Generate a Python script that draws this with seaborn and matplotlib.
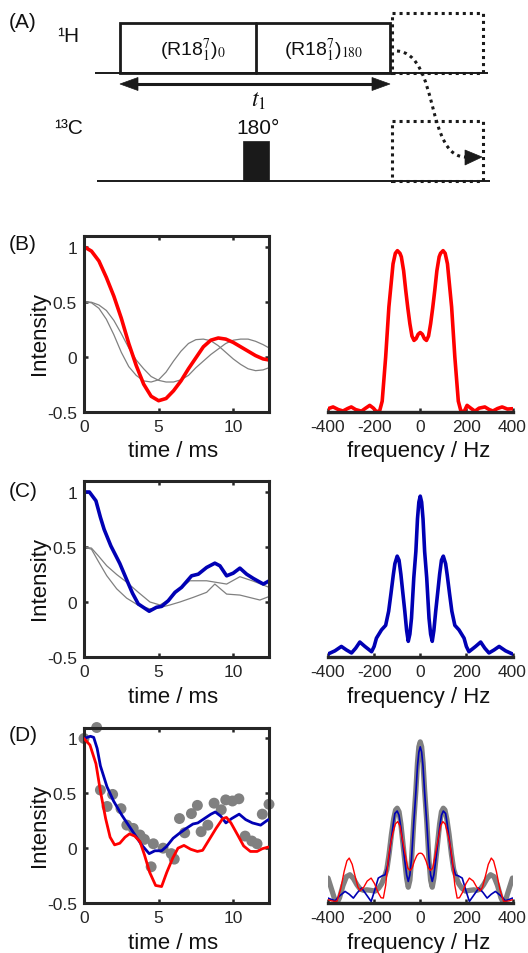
import numpy as np
import pandas as pd
import matplotlib
matplotlib.use("Agg")
import matplotlib.pyplot as plt
import seaborn as sns
from matplotlib.patches import Rectangle, Polygon, PathPatch
from matplotlib.path import Path

# ---------------- data ----------------
# (B) simulated time-domain signals
b_time = [0, 0.5, 1.0, 1.5, 2.0, 2.5, 3.0, 3.5, 4.0, 4.5, 5.0, 5.5, 6.0, 6.5,
          7.0, 7.5, 8.0, 8.5, 9.0, 9.5, 10.0, 10.5, 11.0, 11.5, 12.0, 12.4]
b_red = [1.0, 0.96, 0.87, 0.72, 0.55, 0.35, 0.12, -0.08, -0.25, -0.36, -0.40, -0.38, -0.31,
         -0.22, -0.11, -0.01, 0.09, 0.15, 0.17, 0.16, 0.13, 0.09, 0.05, 0.01, -0.02, -0.03]
b_gray_fast = [0.50, 0.49, 0.44, 0.34, 0.20, 0.04, -0.09, -0.17, -0.22, -0.23, -0.21, -0.14, -0.04,
               0.05, 0.12, 0.155, 0.16, 0.145, 0.10, 0.04, -0.02, -0.07, -0.11, -0.127, -0.12, -0.10]
b_gray_slow = [0.50, 0.495, 0.47, 0.42, 0.33, 0.21, 0.08, -0.03, -0.11, -0.18, -0.215, -0.23, -0.23,
               -0.21, -0.17, -0.10, -0.04, 0.02, 0.07, 0.12, 0.15, 0.16, 0.16, 0.14, 0.11, 0.08]

# (B) spectrum
b_freq = [-400, -378, -355, -335, -315, -299, -280, -255, -237, -219, -203, -190, -176, -165,
          -150, -136, -118, -108, -99, -88, -82, -72, -63, -54, -45, -36, -27, -18, -9, 0,
          9, 18, 27, 36, 45, 54, 63, 72, 82, 88, 99, 108, 118, 136, 150, 165, 176, 190, 203,
          219, 237, 255, 280, 299, 315, 335, 355, 378, 400]
b_spec = [0.017, 0.027, 0.012, 0.004, 0.018, 0.027, 0.012, 0.003, 0.02, 0.036, 0.02, 0.0, 0.005, 0.06,
          0.31, 0.595, 0.84, 0.90, 0.915, 0.90, 0.88, 0.80, 0.69, 0.59, 0.50, 0.43, 0.405, 0.415, 0.44, 0.45,
          0.44, 0.415, 0.405, 0.43, 0.50, 0.59, 0.69, 0.80, 0.88, 0.90, 0.915, 0.90, 0.84, 0.595, 0.31,
          0.06, 0.005, 0.0, 0.036, 0.02, 0.003, 0.02, 0.027, 0.012, 0.004, 0.018, 0.027, 0.015, 0.017]

# (C) experimental-like time-domain signals
c_time_blue = [0, 0.36, 0.8, 1.1, 1.35, 1.8, 2.4, 2.9, 3.25, 3.64, 4.37, 4.86, 5.2, 5.65, 6.1,
               6.54, 7.21, 7.66, 8.22, 8.77, 9.11, 9.56, 10.0, 10.45, 10.9, 11.35, 12.02, 12.42]
c_blue = [1.0, 1.0, 0.92, 0.77, 0.66, 0.51, 0.35, 0.19, 0.08, -0.018, -0.084, -0.048, -0.04, 0.012,
          0.088, 0.133, 0.238, 0.253, 0.314, 0.353, 0.329, 0.238, 0.262, 0.308, 0.253, 0.214, 0.163, 0.193]
c_time_gray1 = [0, 0.5, 0.96, 1.52, 2.19, 2.86, 3.64, 4.42, 5.09, 5.76, 6.43, 7.1, 8.22, 8.89,
                9.56, 10.45, 11.34, 12.41]
c_gray1 = [0.5, 0.49, 0.42, 0.33, 0.25, 0.18, 0.088, 0.0, -0.027, 0.027, 0.12, 0.193, 0.193, 0.178,
           0.163, 0.23, 0.19, 0.133]
c_time_gray2 = [0, 0.5, 0.96, 1.52, 2.19, 2.86, 3.64, 4.42, 5.09, 5.76, 6.43, 7.32, 8.22, 8.77,
                9.56, 10.45, 11.79, 12.41]
c_gray2 = [0.5, 0.48, 0.37, 0.24, 0.12, 0.035, -0.03, -0.063, -0.05, -0.027, 0.0, 0.042, 0.088, 0.163,
           0.072, 0.063, 0.018, 0.05]

# (C) spectrum
c_freq = [-400, -370, -342, -320, -298, -280, -262, -240, -211, -200, -190, -168, -150, -137, -127,
          -117, -110, -100, -92, -84, -76, -67, -59, -52, -45, -38, -28, -19, -12, -6, 0,
          6, 12, 19, 28, 38, 45, 52, 59, 67, 76, 84, 92, 100, 110, 117, 127, 137, 150, 168,
          190, 200, 211, 240, 262, 280, 298, 320, 342, 370, 400]
c_spec = [0.017, 0.035, 0.06, 0.04, 0.023, 0.05, 0.085, 0.06, 0.03, 0.06, 0.107, 0.154, 0.18, 0.26, 0.36,
          0.465, 0.53, 0.573, 0.55, 0.47, 0.37, 0.26, 0.15, 0.089, 0.13, 0.22, 0.45, 0.60, 0.785, 0.88, 0.914,
          0.88, 0.785, 0.60, 0.45, 0.22, 0.13, 0.089, 0.15, 0.26, 0.37, 0.47, 0.55, 0.573, 0.53, 0.465,
          0.36, 0.26, 0.18, 0.154, 0.107, 0.06, 0.03, 0.06, 0.085, 0.05, 0.023, 0.04, 0.06, 0.035, 0.017]

# (D) comparison with experiment
d_time_red = [0, 0.4, 0.8, 1.1, 1.45, 1.75, 2.05, 2.4, 2.75, 3.05, 3.4, 3.75, 4.05, 4.4, 4.8, 5.2,
              5.55, 5.95, 6.3, 6.7, 7.15, 7.6, 7.95, 8.4, 8.85, 9.3, 9.55, 9.85, 10.3, 10.7, 11.15,
              11.6, 11.95, 12.35]
d_red = [1.0, 0.94, 0.77, 0.52, 0.27, 0.10, 0.03, 0.045, 0.10, 0.13, 0.11, 0.06, -0.06, -0.22, -0.34,
         -0.35, -0.22, -0.09, 0.0, 0.025, -0.01, -0.03, -0.02, 0.08, 0.18, 0.27, 0.28, 0.23, 0.12, 0.02,
         -0.03, -0.03, -0.005, 0.01]
d_time_blue = [0, 0.43, 0.65, 0.88, 1.1, 1.54, 1.98, 2.54, 2.98, 3.42, 3.86, 4.37, 4.75, 5.2, 5.53,
               5.97, 6.41, 6.85, 7.3, 7.63, 8.07, 8.51, 8.8, 9.18, 9.51, 9.9, 10.4, 10.84, 11.29,
               11.84, 12.35]
d_blue = [1.0, 1.02, 1.01, 0.91, 0.75, 0.56, 0.43, 0.30, 0.21, 0.12, 0.03, -0.05, -0.024, -0.024, 0.015,
          0.09, 0.137, 0.18, 0.22, 0.23, 0.27, 0.31, 0.33, 0.29, 0.23, 0.27, 0.31, 0.26, 0.23, 0.21, 0.26]
d_time_exp = [0, 0.85, 1.1, 1.55, 1.92, 2.48, 2.87, 3.3, 3.75, 4.05, 4.5, 4.65, 5.3, 5.85, 6.05,
              6.4, 6.75, 7.2, 7.6, 7.85, 8.3, 8.72, 9.2, 9.5, 9.95, 10.38, 10.8, 11.25, 11.6, 11.95, 12.4]
d_exp = [1.0, 1.1, 0.53, 0.38, 0.49, 0.36, 0.21, 0.18, 0.12, 0.08, -0.17, 0.04, 0.0, -0.05, -0.1,
         0.27, 0.14, 0.315, 0.39, 0.15, 0.21, 0.41, 0.35, 0.44, 0.43, 0.45, 0.11, 0.065, 0.04, 0.31, 0.40]

# (D) spectra
d_freq_gray = [-400, -385, -372, -361, -350, -335, -320, -305, -290, -275, -261, -245, -232, -215,
               -196, -180, -167, -155, -145, -135, -125, -115, -107, -100, -92, -84, -76, -67, -59,
               -52, -45, -38, -28, -19, -12, -6, 0, 6, 12, 19, 28, 38, 45, 52, 59, 67, 76, 84, 92,
               100, 107, 115, 125, 135, 145, 155, 167, 180, 196, 215, 232, 245, 261, 275, 290, 305,
               320, 335, 350, 361, 372, 385, 400]
d_spec_gray = [0.142, 0.08, 0.025, 0.0, 0.03, 0.10, 0.15, 0.161, 0.14, 0.105, 0.08, 0.072, 0.075, 0.072,
               0.068, 0.085, 0.11, 0.15, 0.19, 0.28, 0.39, 0.48, 0.53, 0.54, 0.52, 0.45, 0.35, 0.24, 0.14,
               0.09, 0.13, 0.24, 0.47, 0.64, 0.80, 0.89, 0.918, 0.89, 0.80, 0.64, 0.47, 0.24, 0.13, 0.09,
               0.14, 0.24, 0.35, 0.45, 0.52, 0.54, 0.53, 0.48, 0.39, 0.28, 0.19, 0.15, 0.11, 0.085, 0.068,
               0.072, 0.075, 0.072, 0.08, 0.105, 0.14, 0.161, 0.15, 0.10, 0.03, 0.0, 0.025, 0.08, 0.142]
d_freq_blue = [-400, -385, -369, -350, -326, -308, -290, -272, -254, -235, -213, -198, -182, -165, -153,
               -140, -127, -117, -110, -100, -92, -84, -76, -67, -59, -52, -45, -38, -28, -19, -12, -6, 0,
               6, 12, 19, 28, 38, 45, 52, 59, 67, 76, 84, 92, 100, 110, 117, 127, 140, 153, 165, 182,
               198, 213, 235, 254, 272, 290, 308, 326, 350, 369, 385, 400]
d_spec_blue = [0.028, 0.02, 0.013, 0.04, 0.066, 0.05, 0.028, 0.06, 0.085, 0.05, 0.009, 0.07, 0.142, 0.155,
               0.16, 0.22, 0.35, 0.45, 0.51, 0.524, 0.50, 0.43, 0.34, 0.24, 0.16, 0.123, 0.16, 0.25, 0.46,
               0.63, 0.78, 0.86, 0.89, 0.86, 0.78, 0.63, 0.46, 0.25, 0.16, 0.123, 0.16, 0.24, 0.34, 0.43,
               0.50, 0.524, 0.51, 0.45, 0.35, 0.22, 0.16, 0.155, 0.142, 0.07, 0.009, 0.05, 0.085, 0.06,
               0.028, 0.05, 0.066, 0.04, 0.013, 0.02, 0.028]
d_freq_red = [-400, -385, -372, -361, -345, -330, -318, -308, -295, -282, -270, -260, -245, -230, -213,
              -198, -183, -170, -160, -150, -138, -127, -117, -108, -98, -88, -80, -73, -63, -54, -44,
              -35, -25, -15, -7, 0, 7, 15, 25, 35, 44, 54, 63, 73, 80, 88, 98, 108, 117, 127, 138, 150,
              160, 170, 183, 198, 213, 230, 245, 260, 270, 282, 295, 308, 318, 330, 345, 361, 372, 385, 400]
d_spec_red = [0.019, 0.012, 0.01, 0.01, 0.08, 0.18, 0.24, 0.256, 0.22, 0.15, 0.09, 0.07, 0.09, 0.125, 0.142,
              0.11, 0.06, 0.03, 0.028, 0.10, 0.256, 0.35, 0.407, 0.45, 0.464, 0.44, 0.38, 0.331, 0.26, 0.199,
              0.185, 0.20, 0.24, 0.27, 0.282, 0.284, 0.282, 0.27, 0.24, 0.20, 0.185, 0.199, 0.26, 0.331, 0.38,
              0.44, 0.464, 0.45, 0.407, 0.35, 0.256, 0.10, 0.028, 0.03, 0.06, 0.11, 0.142, 0.125, 0.09, 0.07,
              0.09, 0.15, 0.22, 0.256, 0.24, 0.18, 0.08, 0.01, 0.01, 0.012, 0.019]

time_ticks = [0, 5, 10]
time_ticklabels = ["0", "5", "10"]
int_ticks = [-0.5, 0, 0.5, 1]
int_ticklabels = ["-0.5", "0", "0.5", "1"]
freq_ticks = [-400, -200, 0, 200, 400]
freq_ticklabels = ["-400", "-200", "0", "200", "400"]

# ---------------- style ----------------
sns.set_theme(style="white")
plt.rcParams["font.family"] = ["Liberation Sans", "DejaVu Sans"]
plt.rcParams["mathtext.fontset"] = "stix"
plt.rcParams["axes.unicode_minus"] = False

RED = "#ff0000"
BLUE = "#0000b4"
GRAY = "#808080"
DARK = "#262626"
TXT = "#111111"

W, H = 528, 954
fig = plt.figure(figsize=(W / 100, H / 100), dpi=100)
fig.patch.set_facecolor("white")


def px_axes(x0, y0, x1, y1):
    return fig.add_axes([x0 / W, 1 - y1 / H, (x1 - x0) / W, (y1 - y0) / H])


def style_time(ax):
    ax.set_xlim(0, 12.4)
    ax.set_ylim(-0.5, 1.1)
    ax.set_xticks(time_ticks)
    ax.set_xticklabels(time_ticklabels)
    ax.set_yticks(int_ticks)
    ax.set_yticklabels(int_ticklabels)
    for s in ax.spines.values():
        s.set_visible(True)
        s.set_linewidth(2.2)
        s.set_color(DARK)
    ax.tick_params(direction="in", length=3, width=1.8, color=DARK, top=True, right=True,
                   bottom=True, left=True, labelsize=12.5, labelcolor=DARK, pad=5)
    ax.set_xlabel("time / ms", fontsize=16, color=TXT)
    ax.xaxis.label.set_va("center")
    ax.xaxis.set_label_coords(0.484, -0.223)
    ax.set_ylabel("Intensity", fontsize=16, color=TXT)
    ax.yaxis.label.set_va("center")
    ax.yaxis.set_label_coords(-0.243, 0.45)


def style_freq(ax):
    ax.set_xlim(-400, 400)
    ax.set_ylim(0, 1)
    for k in ["left", "right", "top"]:
        ax.spines[k].set_visible(False)
    ax.spines["bottom"].set_visible(True)
    ax.spines["bottom"].set_linewidth(2.4)
    ax.spines["bottom"].set_color(DARK)
    ax.set_yticks([])
    ax.set_xticks(freq_ticks)
    ax.set_xticklabels(freq_ticklabels)
    ax.tick_params(axis="x", direction="in", length=3, width=1.8, color=DARK, bottom=True,
                   labelsize=12.5, labelcolor=DARK, pad=5)
    ax.set_xlabel("frequency / Hz", fontsize=16, color=TXT)
    ax.xaxis.label.set_va("center")
    ax.xaxis.set_label_coords(0.493, -0.223)
    ax.set_ylabel("")
    ax.patch.set_alpha(0)


rows = [(236.7, 412.7), (482.0, 658.0), (728.5, 904.0)]
LX0, LX1 = 84, 269
RX0, RX1 = 328, 512.5

# ---------------- (B) ----------------
axB = px_axes(LX0, rows[0][0], LX1, rows[0][1])
sns.lineplot(x=b_time, y=b_gray_fast, ax=axB, color=GRAY, lw=0.9)
sns.lineplot(x=b_time, y=b_gray_slow, ax=axB, color=GRAY, lw=0.9)
sns.lineplot(x=b_time, y=b_red, ax=axB, color=RED, lw=2.6)
style_time(axB)

axBs = px_axes(RX0, rows[0][0], RX1, rows[0][1])
sns.lineplot(x=b_freq, y=b_spec, ax=axBs, color=RED, lw=2.6, sort=False)
style_freq(axBs)

# ---------------- (C) ----------------
axC = px_axes(LX0, rows[1][0], LX1, rows[1][1])
sns.lineplot(x=c_time_gray1, y=c_gray1, ax=axC, color=GRAY, lw=0.9)
sns.lineplot(x=c_time_gray2, y=c_gray2, ax=axC, color=GRAY, lw=0.9)
sns.lineplot(x=c_time_blue, y=c_blue, ax=axC, color=BLUE, lw=2.6)
style_time(axC)

axCs = px_axes(RX0, rows[1][0], RX1, rows[1][1])
sns.lineplot(x=c_freq, y=c_spec, ax=axCs, color=BLUE, lw=2.6, sort=False)
style_freq(axCs)

# ---------------- (D) ----------------
axD = px_axes(LX0, rows[2][0], LX1, rows[2][1])
sns.scatterplot(x=d_time_exp, y=d_exp, ax=axD, color=GRAY, s=62, edgecolor="none",
                clip_on=False, zorder=2)
sns.lineplot(x=d_time_blue, y=d_blue, ax=axD, color=BLUE, lw=2.0, zorder=3)
sns.lineplot(x=d_time_red, y=d_red, ax=axD, color=RED, lw=2.0, zorder=3)
style_time(axD)

axDs = px_axes(RX0, rows[2][0], RX1, rows[2][1])
sns.lineplot(x=d_freq_gray, y=d_spec_gray, ax=axDs, color=GRAY, lw=3.8, sort=False)
sns.lineplot(x=d_freq_blue, y=d_spec_blue, ax=axDs, color=BLUE, lw=1.2, sort=False)
sns.lineplot(x=d_freq_red, y=d_spec_red, ax=axDs, color=RED, lw=1.0, sort=False)
style_freq(axDs)

# panel letters
for lab, ypx in [("(B)", 244), ("(C)", 492), ("(D)", 736)]:
    fig.text(23 / W, 1 - ypx / H, lab, fontsize=15, ha="center", va="center", color=TXT)

# ---------------- (A) pulse sequence ----------------
axA = fig.add_axes([0, 1 - 200 / H, 1, 200 / H])
axA.set_xlim(0, W)
axA.set_ylim(200, 0)
axA.axis("off")

axA.text(23, 22, "(A)", fontsize=15, ha="center", va="center", color=TXT)
axA.text(68, 36, "\u00b9H", fontsize=15, ha="center", va="center", color=TXT)
axA.text(69, 128, "\u00b9\u00b3C", fontsize=15, ha="center", va="center", color=TXT)

# baselines
axA.plot([95, 488], [74, 74], color="k", lw=1.4, solid_capstyle="butt")
axA.plot([97, 490], [182, 182], color="k", lw=1.4, solid_capstyle="butt")
# recoupling blocks
axA.add_patch(Rectangle((120, 24), 270, 50, fill=False, ec="k", lw=2.0, joinstyle="miter"))
axA.plot([256, 256], [24, 74], color="k", lw=2.0)
axA.text(193, 50, "(R18$^{7}_{1}$)$_{0}$", fontsize=14, ha="center", va="center", color=TXT)
axA.text(324, 50, "(R18$^{7}_{1}$)$_{180}$", fontsize=14, ha="center", va="center", color=TXT)
# t1 arrow
axA.plot([132, 378], [85, 85], color="k", lw=2.2, solid_capstyle="butt")
axA.add_patch(Polygon([(120, 85), (138, 78.5), (138, 91.5)], closed=True, fc="k", ec="k", lw=0.5))
axA.add_patch(Polygon([(390, 85), (372, 78.5), (372, 91.5)], closed=True, fc="k", ec="k", lw=0.5))
axA.text(259, 101, "$t_1$", fontsize=17, ha="center", va="center", color=TXT)
# 180 pulse
axA.text(258, 129, "180\u00b0", fontsize=15, ha="center", va="center", color=TXT)
axA.add_patch(Rectangle((243, 142), 26, 40, fc="k", ec="k", lw=0.5))
# dotted detection boxes
for (y0, y1) in [(14, 74), (122, 182)]:
    axA.add_patch(Rectangle((392, y0), 91, y1 - y0, fill=False, ec="k", lw=2.2,
                            linestyle=(0, (1, 1.3))))
# dotted transfer arrow
verts = [(397, 52), (440, 55), (425, 160), (467, 158)]
codes = [Path.MOVETO, Path.CURVE4, Path.CURVE4, Path.CURVE4]
axA.add_patch(PathPatch(Path(verts, codes), fill=False, ec="k", lw=2.2, linestyle=(0, (1, 1.3))))
axA.add_patch(Polygon([(482, 158), (465, 151), (465, 166)], closed=True, fc="k", ec="k", lw=0.5))

fig.savefig("out.png", dpi=100, facecolor="white")
